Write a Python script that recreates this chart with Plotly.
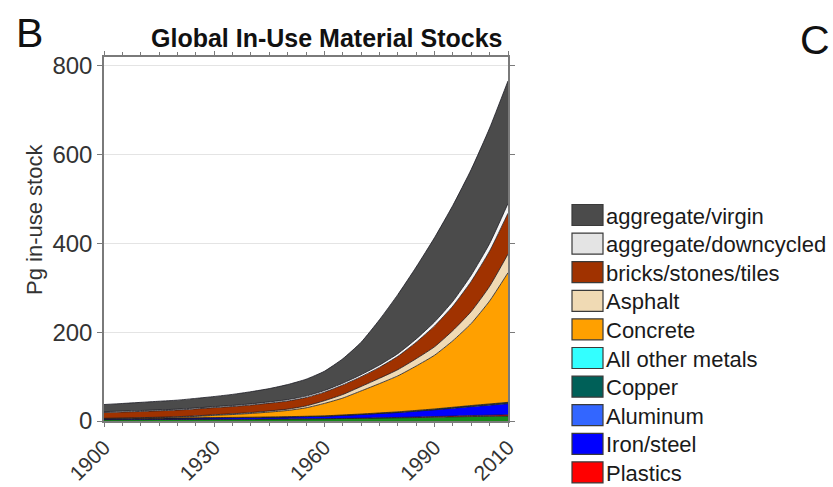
import plotly.graph_objects as go

# ---- data (Pg of material in use, every 5 years) ----
years = [1900, 1905, 1910, 1915, 1920, 1925, 1930, 1935, 1940, 1945, 1950, 1955,
         1960, 1965, 1970, 1975, 1980, 1985, 1990, 1995, 2000, 2005, 2010]

other_base = [3.0, 3.1, 3.2, 3.35, 3.5, 3.65, 3.8, 3.9, 4.0, 4.25, 4.5, 4.75,
              5.0, 5.5, 6.0, 6.5, 7.0, 7.7, 8.5, 9.2, 10.0, 10.5, 11.0]
plastics = [0, 0, 0, 0, 0, 0, 0, 0, 0, 0, 0.05, 0.1,
            0.2, 0.35, 0.5, 0.75, 1.0, 1.3, 1.6, 1.95, 2.3, 2.65, 3.0]
iron_steel = [2.0, 2.25, 2.5, 2.75, 3.0, 3.25, 3.5, 3.75, 4.0, 4.25, 4.5, 5.0,
              5.5, 6.7, 8.0, 9.5, 11.0, 13.0, 15.0, 17.5, 20.0, 22.5, 25.0]
aluminum = [0, 0, 0, 0, 0, 0.02, 0.05, 0.07, 0.1, 0.15, 0.2, 0.25,
            0.3, 0.4, 0.5, 0.6, 0.7, 0.8, 0.9, 1.05, 1.2, 1.35, 1.5]
copper = [0.05, 0.06, 0.08, 0.09, 0.1, 0.12, 0.15, 0.17, 0.2, 0.22, 0.25, 0.27,
          0.3, 0.35, 0.4, 0.45, 0.5, 0.55, 0.6, 0.65, 0.7, 0.75, 0.8]
other_metals = [0.05, 0.06, 0.08, 0.09, 0.1, 0.12, 0.15, 0.17, 0.2, 0.22, 0.25, 0.27,
                0.3, 0.32, 0.35, 0.4, 0.45, 0.5, 0.55, 0.6, 0.65, 0.7, 0.75]
concrete = [0.5, 0.7, 1.0, 1.4, 2.0, 3.2, 5.0, 6.5, 8.5, 11, 14, 19,
            28, 38, 52, 66, 81, 100, 121, 150, 185, 232, 292]
asphalt = [0.5, 0.6, 0.7, 0.85, 1.0, 1.2, 1.5, 1.7, 2.0, 2.5, 3.0, 4.2,
           6.0, 8.0, 10.0, 12.0, 14.0, 16.5, 19.0, 23.0, 27.0, 33.0, 42.0]
bricks = [13.0, 13.5, 14.0, 14.5, 15.0, 15.6, 16.0, 16.4, 17.0, 17.7, 18.3, 19.0,
          19.4, 21.4, 22.0, 24.6, 30.0, 37.0, 47.0, 55.0, 68.0, 79.5, 92.0]
agg_downcycled = [2.0, 2.0, 2.0, 2.0, 2.0, 2.1, 2.2, 2.3, 2.5, 2.7, 3.0, 3.2,
                  3.5, 4.0, 4.5, 5.2, 6.0, 7.5, 9.0, 11.0, 14.0, 17.0, 22.0]
agg_virgin = [16.0, 17.2, 18.4, 19.5, 20.3, 21.7, 22.8, 25.0, 27.5, 30.0, 34.0, 38.0,
              43.5, 55.0, 73.0, 102.0, 133.0, 162.0, 190.0, 216.0, 238.0, 260.0, 276.0]

# legend order (top of stack first)
legend_names = ["aggregate/virgin", "aggregate/downcycled", "bricks/stones/tiles",
                "Asphalt", "Concrete", "All other metals", "Copper", "Aluminum",
                "Iron/steel", "Plastics"]
legend_series = [agg_virgin, agg_downcycled, bricks, asphalt, concrete,
                 other_metals, copper, aluminum, iron_steel, plastics]
legend_colors = ["#4b4b4b", "#e4e4e4", "#a03200", "#f0dab4", "#ffa000",
                 "#33ffff", "#006058", "#3366ff", "#0000ff", "#ff0000"]

x_ticks = [1900, 1930, 1960, 1990, 2010]
y_ticks = [0, 200, 400, 600, 800]

FONT = "Liberation Sans, Arial, sans-serif"

# plot area in pixels
W, H = 833, 487
PL, PR, PT, PB = 104, 508, 57, 421


def px_x(px):
    return (px - PL) / (PR - PL)


def px_y(py):
    return (PB - py) / (PB - PT)


fig = go.Figure()

line_style = dict(color="#1c1c24", width=0.8, shape="spline", smoothing=0.5)

# bottom layer first, then the listed materials from the bottom up
fig.add_trace(go.Scatter(x=years, y=other_base, name="Other", stackgroup="s",
                         mode="lines", line=line_style, fillcolor="#168a16",
                         showlegend=False, hoverinfo="x+y+name"))
for name, vals, col in reversed(list(zip(legend_names, legend_series, legend_colors))):
    fill = "#f7f7f7" if name == "aggregate/downcycled" else col
    fig.add_trace(go.Scatter(x=years, y=vals, name=name, stackgroup="s",
                             mode="lines", line=line_style, fillcolor=fill,
                             showlegend=False, hoverinfo="x+y+name"))

# legend drawn as boxes with labels
row0, row_step = 215.0, 28.6
shapes = []
annotations = []
for i, (name, col) in enumerate(zip(legend_names, legend_colors)):
    cy = row0 + i * row_step
    shapes.append(dict(type="rect", xref="paper", yref="paper",
                       x0=px_x(572), x1=px_x(603), y0=px_y(cy + 10.5), y1=px_y(cy - 10.5),
                       fillcolor=col, line=dict(color="#3a3a3a", width=1.2), layer="above"))
    annotations.append(dict(text=name, xref="paper", yref="paper",
                            x=px_x(604), y=px_y(cy + 1), xanchor="left", yanchor="middle",
                            showarrow=False, font=dict(family=FONT, size=22, color="#1a1a1a")))

# title, panel letters and y-axis title
annotations.append(dict(text="<b>Global In-Use Material Stocks</b>", xref="paper", yref="paper",
                        x=px_x(327), y=px_y(38), xanchor="center", yanchor="middle",
                        showarrow=False, font=dict(family=FONT, size=25, color="#111111")))
annotations.append(dict(text="B", xref="paper", yref="paper",
                        x=px_x(29), y=px_y(33), xanchor="center", yanchor="middle",
                        showarrow=False, font=dict(family=FONT, size=41, color="#111111")))
annotations.append(dict(text="C", xref="paper", yref="paper",
                        x=px_x(815), y=px_y(40), xanchor="center", yanchor="middle",
                        showarrow=False, font=dict(family=FONT, size=41, color="#111111")))
annotations.append(dict(text="Pg in-use stock", xref="paper", yref="paper",
                        x=px_x(34), y=px_y(220), xanchor="center", yanchor="middle",
                        textangle=-90, showarrow=False,
                        font=dict(family=FONT, size=22, color="#333333")))

fig.update_layout(
    width=W, height=H,
    margin=dict(l=PL, r=W - PR, t=PT, b=H - PB, pad=0, autoexpand=False),
    paper_bgcolor="white", plot_bgcolor="white",
    showlegend=False,
    shapes=shapes, annotations=annotations,
    font=dict(family=FONT, color="#333333"),
)
fig.update_xaxes(range=[1900, 2010], tickvals=x_ticks, ticktext=[str(v) for v in x_ticks],
                 tickangle=-45, tickfont=dict(family=FONT, size=21, color="#333333"),
                 automargin=False,
                 showgrid=False, zeroline=False, showline=True, linecolor="#7a7a7a",
                 linewidth=1.5, mirror="ticks", ticks="outside", ticklen=4,
                 tickcolor="#7a7a7a",
                 minor=dict(dtick=5, tick0=1900, ticks="outside", ticklen=3,
                            tickcolor="#7a7a7a", showgrid=False))
fig.update_yaxes(range=[0, 820], tickvals=y_ticks, automargin=False,
                 tickfont=dict(family=FONT, size=24, color="#333333"),
                 showgrid=True, gridcolor="#e4e4e4", gridwidth=1, zeroline=False,
                 showline=True, linecolor="#7a7a7a", linewidth=1.5, mirror="ticks",
                 ticks="outside", ticklen=5, tickcolor="#7a7a7a")

fig.write_html("out.html")
